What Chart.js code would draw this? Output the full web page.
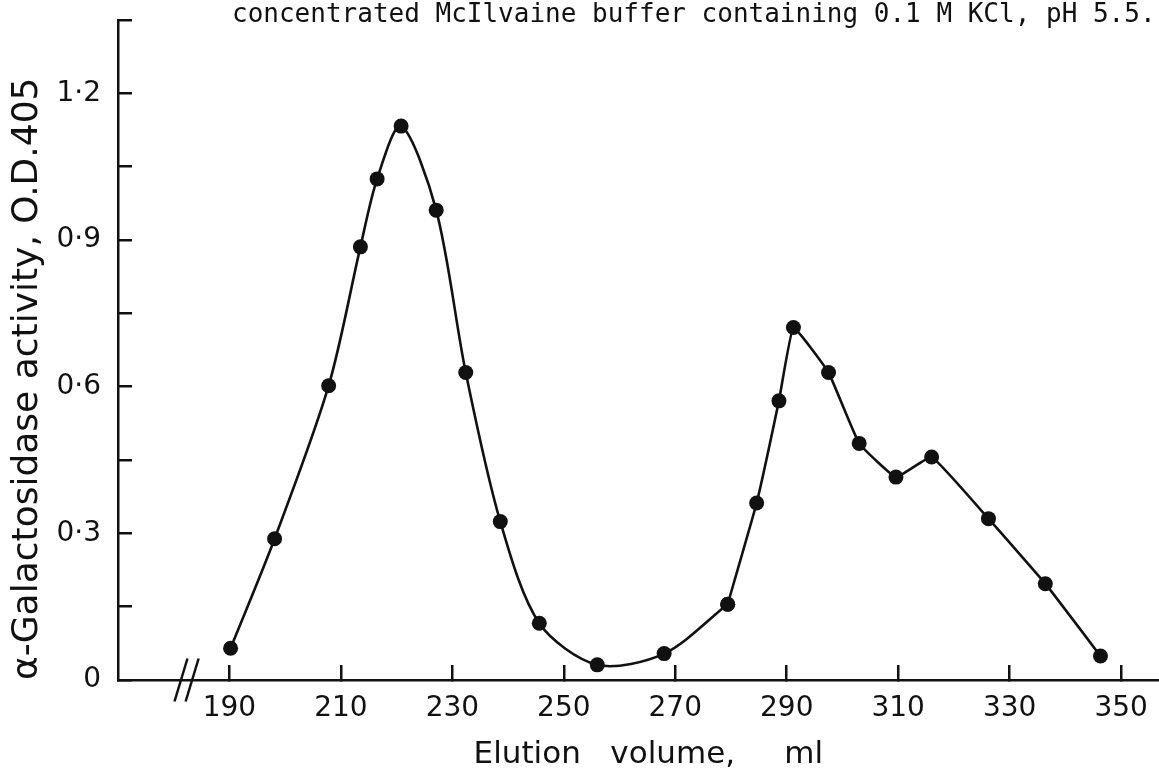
<!DOCTYPE html>
<html>
<head>
<meta charset="utf-8">
<title>Elution profile</title>
<style>
  html, body { margin: 0; padding: 0; background: #fff; }
  #wrap { width: 1159px; height: 779px; position: relative; }
</style>
<script src="https://cdn.jsdelivr.net/npm/chart.js@4/dist/chart.umd.min.js"></script>
</head>
<body>
<div id="wrap"><canvas id="elution-chart"></canvas></div>
<script>
// values
const volumes = [190.2, 198.1, 207.8, 213.5, 216.5, 220.8, 227.1, 232.4, 238.6, 245.6, 256.0, 268.0,
                 279.4, 284.6, 288.6, 291.2, 297.5, 303.0, 309.6, 316.0, 326.2, 336.4, 346.3];
const activity = [0.065, 0.289, 0.602, 0.886, 1.025, 1.133, 0.961, 0.629, 0.324, 0.116, 0.031, 0.054,
                  0.155, 0.362, 0.571, 0.721, 0.629, 0.484, 0.415, 0.456, 0.330, 0.197, 0.049];
const splitAt = 12;   // first peak is drawn as a smooth curve, the second one more angular
const xTicks = [190, 210, 230, 250, 270, 290, 310, 330, 350];
const yTicks = [0, 0.15, 0.3, 0.45, 0.6, 0.75, 0.9, 1.05, 1.2, 1.35];
const yLabelled = [0, 0.3, 0.6, 0.9, 1.2];
const breakMarks = [181.3, 183.3];   // the "//" break on the volume axis

const caption = 'concentrated McIlvaine buffer containing 0.1 M KCl, pH 5.5.';
const ink = '#111';

const points = volumes.map((v, i) => ({ x: v, y: activity[i] }));

// caption strip at the top and the axis-break slashes
const extras = {
    id: 'extras',
    afterDraw(chart) {
        const ctx = chart.ctx;
        const xs = chart.scales.x;
        const ys = chart.scales.y;
        ctx.save();
        ctx.fillStyle = ink;
        ctx.font = '26px "DejaVu Sans Mono"';
        ctx.textBaseline = 'alphabetic';
        ctx.fillText(caption, 232, 22);

        const y0 = ys.getPixelForValue(0);
        ctx.strokeStyle = ink;
        ctx.lineWidth = 2.5;
        breakMarks.forEach(b => {
            const cx = xs.getPixelForValue(b);
            ctx.beginPath();
            ctx.moveTo(cx + 6.5, y0 - 21.5);
            ctx.lineTo(cx - 6.5, y0 + 21.5);
            ctx.stroke();
        });
        ctx.restore();
    }
};

function noPadding(s) {
    s.paddingTop = 0;
    s.paddingBottom = 0;
    s.paddingLeft = 0;
    s.paddingRight = 0;
}

const lineStyle = {
    borderColor: ink,
    backgroundColor: ink,
    borderWidth: 2.6,
    pointRadius: 7.5,
    pointBackgroundColor: ink,
    pointBorderWidth: 0,
    fill: false
};

const ctx = document.getElementById('elution-chart').getContext('2d');
new Chart(ctx, {
    type: 'line',
    data: {
        datasets: [
            Object.assign({ data: points.slice(0, splitAt + 1), tension: 0.3 }, lineStyle),
            Object.assign({ data: points.slice(splitAt), tension: 0.1 }, lineStyle)
        ]
    },
    options: {
        responsive: true,
        maintainAspectRatio: false,
        animation: false,
        layout: { autoPadding: false, padding: { top: 20, left: 0, right: 0, bottom: 0 } },
        plugins: {
            legend: { display: false },
            tooltip: { enabled: false }
        },
        scales: {
            x: {
                type: 'linear',
                min: 170,
                max: 356.8,
                afterBuildTicks: s => { s.ticks = xTicks.map(v => ({ value: v })); },
                afterFit: s => { s.height = 99; noPadding(s); },
                border: { display: true, color: ink, width: 2.5 },
                grid: { display: true, drawOnChartArea: false, drawTicks: true, tickLength: -15, color: ink, lineWidth: 2.5 },
                ticks: {
                    padding: 27,
                    color: ink,
                    autoSkip: false,
                    maxRotation: 0,
                    font: { family: 'DejaVu Sans', size: 28 },
                    callback: v => String(v)
                },
                title: {
                    display: true,
                    text: '  Elution   volume,     ml',
                    color: ink,
                    font: { family: 'DejaVu Sans', size: 31 },
                    padding: { top: 0, bottom: 5 }
                }
            },
            y: {
                min: 0,
                max: 1.35,
                afterBuildTicks: s => { s.ticks = yTicks.map(v => ({ value: v })); },
                afterFit: s => { s.width = 118; noPadding(s); },
                border: { display: true, color: ink, width: 2.5 },
                grid: { display: true, drawOnChartArea: false, drawTicks: true, tickLength: -14, color: ink, lineWidth: 2.5 },
                ticks: {
                    padding: 31,
                    color: ink,
                    autoSkip: false,
                    font: { family: 'DejaVu Sans', size: 28 },
                    callback: v => {
                        const hit = yLabelled.find(t => Math.abs(t - v) < 1e-6);
                        if (hit === undefined) return '';
                        return hit === 0 ? '0' : hit.toFixed(1).replace('.', '\u00b7');
                    }
                },
                title: {
                    display: true,
                    text: '\u03b1-Galactosidase activity, O.D.405',
                    align: 'start',
                    color: ink,
                    font: { family: 'DejaVu Sans', size: 36 },
                    padding: { top: 6, bottom: 0 }
                }
            }
        }
    },
    plugins: [extras]
});
</script>
</body>
</html>
